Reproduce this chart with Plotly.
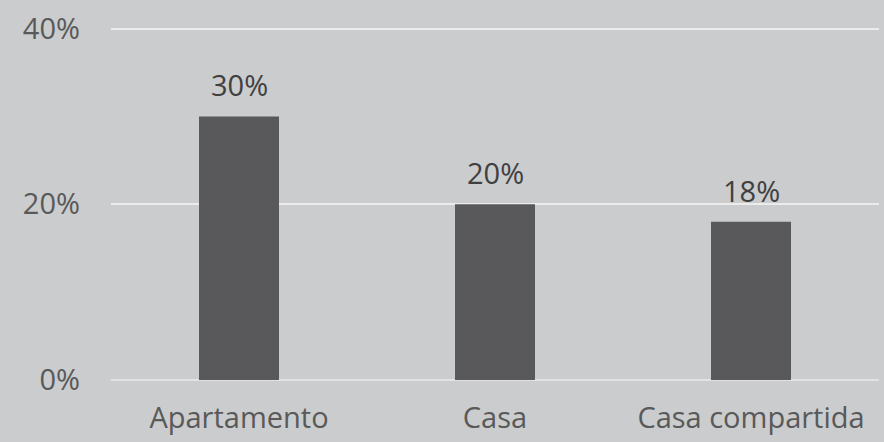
import plotly.graph_objects as go

categories = ["Apartamento", "Casa", "Casa compartida"]
values = [30, 20, 18]
labels = ["30%", "20%", "18%"]
tick_vals = [0, 20, 40]
tick_text = ["0%", "20%", "40%"]

font_family = "Open Sans, Noto Sans, sans-serif"

fig = go.Figure()
fig.add_trace(go.Bar(
    x=categories, y=values,
    marker=dict(color="#59595b", line=dict(width=0)),
    width=0.3125, hoverinfo="skip",
))

# value labels sitting above each bar
for cat, val, lab in zip(categories, values, labels):
    fig.add_annotation(
        x=cat, y=val, text=lab, showarrow=False,
        yanchor="bottom", yshift=10,
        font=dict(size=29, color="#404040", family=font_family),
    )

fig.update_layout(
    width=884, height=442,
    margin=dict(l=111, r=5, t=25, b=62),
    paper_bgcolor="#cbcccd", plot_bgcolor="#cbcccd",
    showlegend=False,
    font=dict(family=font_family, size=29, color="#595959"),
)
fig.update_yaxes(
    range=[0, 40.4], tickvals=tick_vals, ticktext=tick_text,
    showgrid=True, gridcolor="#ececec", gridwidth=1.5,
    zeroline=True, zerolinecolor="#e2e2e2", zerolinewidth=1.5,
    ticklabelstandoff=30, tickfont=dict(size=29, color="#595959"),
)
fig.update_xaxes(
    showgrid=False, showline=False,
    tickfont=dict(size=29, color="#595959"),
    ticklabelstandoff=18,
)

fig.write_html("out.html", config={"displayModeBar": False},
               post_script="document.body.style.margin='0';")
